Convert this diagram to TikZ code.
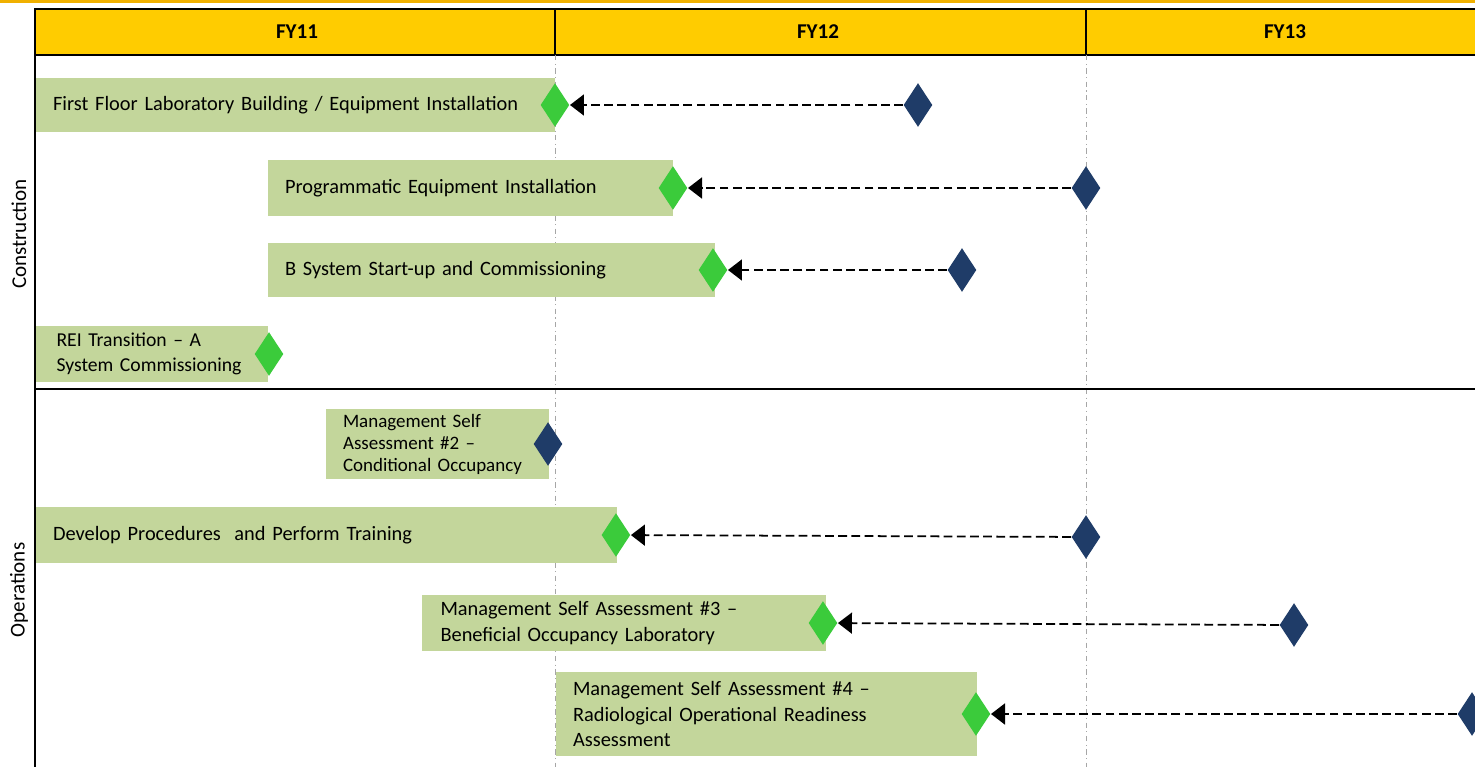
\documentclass[tikz,border=0pt]{standalone}
\usepackage{fontspec}
\setmainfont{Carlito}
\usetikzlibrary{arrows.meta}
\usetikzlibrary{shapes}
\definecolor{hdrgold}{HTML}{FFCC00}
\definecolor{topline}{HTML}{F0B000}
\definecolor{barfill}{HTML}{C3D69B}
\definecolor{msgreen}{HTML}{3BCB3B}
\definecolor{msnavy}{HTML}{1F3C68}

\begin{document}
\begin{tikzpicture}[x=0.02cm,y=-0.02cm,semithick,>={Triangle[length=0.28cm,width=0.42cm]}]
\tikzstyle{task}=[fill=barfill,anchor=west,align=left,inner xsep=0.35cm,inner ysep=0pt,font=\fontsize{11.6}{14.5}\selectfont]
\tikzstyle{mstone}=[diamond,inner sep=0pt,minimum width=0.58cm,minimum height=0.88cm]
\tikzstyle{done}=[mstone,fill=msgreen]
\tikzstyle{plan}=[mstone,fill=msnavy]
\tikzstyle{slip}=[->,line width=1pt,dash pattern=on 5pt off 2.5pt]
\tikzstyle{year}=[font=\bfseries\fontsize{12}{13}\selectfont]
\tikzstyle{grid}=[gray!70,dashdotted,thin]
\tikzstyle{phase}=[rotate=90,font=\fontsize{12}{13}\selectfont]

\useasboundingbox (0,0) rectangle (1475,767);
\fill[topline] (0,0) rectangle (1475,3);

% header row
\fill[hdrgold] (35,9) rectangle (1475,55);
\draw (1475,9) -- (35,9) -- (35,767);
\draw (35,55) -- (1475,55);
\draw (555,9) -- (555,55);
\draw (1086,9) -- (1086,55);
\node[year] (fy11) at (297,32) {FY11};
\node[year] (fy12) at (818,32) {FY12};
\node[year] (fy13) at (1285,32) {FY13};
\draw[grid] (555,55) -- (555,767);
\draw[grid] (1086,55) -- (1086,767);
\draw (35,389) -- (1475,389);
\node[phase] (constr) at (19,234) {Construction};
\node[phase] (oper) at (19,590) {Operations};

% construction
\node[task,text width=9.7cm,minimum height=1.08cm] (b1) at (35,105) {First Floor Laboratory Building / Equipment Installation};
\node[task,text width=7.42cm,minimum height=1.12cm] (b2) at (267,188) {Programmatic Equipment Installation};
\node[task,text width=8.26cm,minimum height=1.1cm] (b3) at (267,270) {B System Start-up and Commissioning};
\node[task,text width=4.06cm,minimum height=1.14cm,inner xsep=0.3cm,font=\fontsize{11.2}{14.5}\selectfont] (b4) at (35,354) {\hspace*{0.12cm}REI Transition -- A\\\hspace*{0.12cm}System Commissioning};

% operations
\node[task,text width=3.78cm,minimum height=1.4cm,font=\fontsize{10.8}{12.5}\selectfont] (b5) at (325,444) {Management Self\\Assessment \#2 --\\Conditional Occupancy};
\node[task,text width=10.94cm,minimum height=1.14cm] (b6) at (35,535) {Develop Procedures~ and Perform Training};
\node[task,text width=7.34cm,minimum height=1.14cm,inner xsep=0.38cm] (b7) at (421,623) {Management Self Assessment \#3 --\\Beneficial Occupancy Laboratory};
\node[task,text width=7.74cm,minimum height=1.7cm] (b8) at (555,714) {Management Self Assessment \#4 --\\Radiological Operational Readiness\\Assessment};

\node[done] (g1) at ([xshift=-0.02cm]b1.east) {};
\node[done] (g2) at ([xshift=-0.02cm]b2.east) {};
\node[done] (g3) at ([xshift=-0.06cm]b3.east) {};
\node[done] (g4) at (b4.east) {};
\node[plan] (n5) at ([xshift=-0.04cm]b5.east) {};
\node[done] (g6) at ([xshift=-0.04cm]b6.east) {};
\node[done] (g7) at ([xshift=-0.08cm]b7.east) {};
\node[done] (g8) at ([xshift=-0.04cm]b8.east) {};

\node[plan] (n1) at (918,105) {};
\node[plan] (n2) at (1086,188) {};
\node[plan] (n3) at (962,270) {};
\node[plan] (n6) at (1086,537) {};
\node[plan] (n7) at (1294,625) {};
\node[plan] (n8) at (1472,714) {};

\draw[slip] (n1) -- (g1);
\draw[slip] (n2) -- (g2);
\draw[slip] (n3) -- (g3);
\draw[slip] (n6) -- (g6);
\draw[slip] (n7) -- (g7);
\draw[slip] (n8) -- (g8);
\end{tikzpicture}
\end{document}
